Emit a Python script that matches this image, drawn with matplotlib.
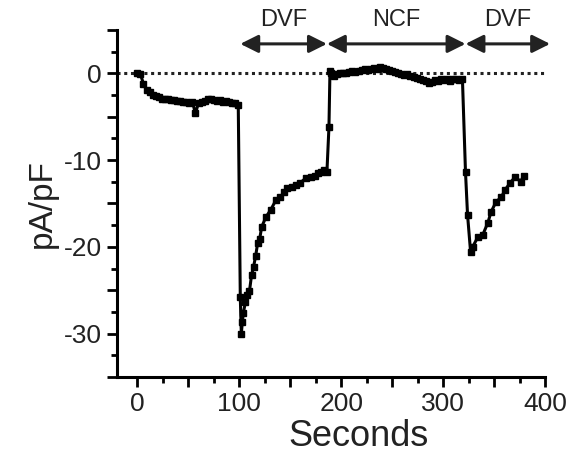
import matplotlib
matplotlib.use("Agg")
import matplotlib.pyplot as plt
from matplotlib.ticker import MultipleLocator, FuncFormatter

plt.rcParams['font.family'] = ['Liberation Sans', 'DejaVu Sans']

# baseline before the first DVF application
t_base = [0, 3, 6, 9, 12, 15, 18, 21, 24, 27, 30, 33, 36, 39, 42, 45, 48, 51,
          54, 57, 60, 63, 66, 69, 72, 75, 78, 81, 84, 87, 90, 93, 96, 99]
i_base = [0.0, -0.1, -1.2, -1.9, -2.2, -2.5, -2.6, -2.7, -2.9, -3.0, -3.0, -3.1,
          -3.1, -3.2, -3.2, -3.3, -3.3, -3.4, -3.3, -4.6, -3.4, -3.3, -3.2, -3.0,
          -2.9, -3.1, -3.2, -3.1, -3.3, -3.2, -3.3, -3.4, -3.4, -3.6]

# first DVF
t_dvf1 = [101, 102, 103, 104, 106, 108, 110, 112, 114, 116, 118, 120, 122, 126,
          131, 136, 140, 144, 147, 152, 156, 160, 165, 170, 174, 177, 180, 183, 186]
i_dvf1 = [-25.8, -30.0, -28.7, -27.6, -26.4, -25.6, -25.1, -23.3, -22.3, -21.1,
          -19.6, -19.1, -17.7, -16.6, -15.7, -14.6, -14.3, -13.7, -13.2, -13.1,
          -12.9, -12.6, -12.1, -11.9, -11.8, -11.5, -11.4, -11.1, -11.4]

# NCF
t_ncf = [188, 189, 190, 193, 196, 199, 202, 205, 208, 211, 214, 217, 220, 223,
         226, 229, 232, 235, 238, 241, 244, 247, 250, 253, 256, 259, 262, 265,
         268, 271, 274, 277, 280, 283, 286, 289, 292, 295, 298, 301, 304, 307,
         310, 313, 316, 319]
i_ncf = [-6.2, 0.3, 0.0, -0.3, -0.1, 0.0, 0.1, 0.0, 0.2, 0.3, 0.2, 0.3, 0.4, 0.5,
         0.4, 0.5, 0.6, 0.5, 0.7, 0.6, 0.5, 0.4, 0.3, 0.2, 0.0, -0.1, -0.2, -0.1,
         -0.3, -0.4, -0.5, -0.6, -0.8, -0.9, -1.1, -1.0, -0.8, -0.9, -0.7, -0.8,
         -0.6, -0.9, -0.7, -0.6, -0.8, -0.7]

# second DVF
t_dvf2 = [322, 324, 327, 329, 334, 339, 344, 347, 352, 357, 361, 366, 371, 376, 379]
i_dvf2 = [-11.4, -16.3, -20.6, -20.0, -18.9, -18.6, -17.2, -16.0, -14.8, -14.3,
          -13.4, -12.6, -11.9, -12.5, -11.8]

t_all = t_base + t_dvf1 + t_ncf + t_dvf2
i_all = i_base + i_dvf1 + i_ncf + i_dvf2

# solution bars across the top
bars = [("DVF", 101, 186), ("NCF", 186, 322), ("DVF", 322, 405)]

txt = '#222222'
fig = plt.figure(figsize=(5.69, 4.58), dpi=100)
ax = fig.add_axes([0.2056, 0.1769, 0.7522, 0.7576])

ax.axhline(0, color='#222222', lw=2.2, linestyle=(0, (1, 1.2)), zorder=1)
ax.plot(t_all, i_all, color='black', lw=2.2, marker='s', ms=5, zorder=3)

for name, a, b in bars:
    ax.annotate('', xy=(b, 3.4), xytext=(a, 3.4),
                arrowprops=dict(arrowstyle='<|-|>', color='#222222', lw=2.2,
                                mutation_scale=27, shrinkA=0, shrinkB=0),
                annotation_clip=False)
    ax.text((a + b) / 2, 6.1, name, ha='center', va='center', fontsize=17,
            color=txt, clip_on=False)

ax.set_xlim(-20, 400)
ax.set_ylim(-35, 5)

ax.spines['top'].set_visible(False)
ax.spines['right'].set_visible(False)
ax.spines['left'].set_linewidth(2.2)
ax.spines['bottom'].set_linewidth(2.2)

ax.xaxis.set_major_locator(MultipleLocator(50))
ax.xaxis.set_minor_locator(MultipleLocator(25))
ax.yaxis.set_major_locator(MultipleLocator(5))
ax.yaxis.set_minor_locator(MultipleLocator(2.5))
ax.xaxis.set_major_formatter(FuncFormatter(lambda v, p: f"{v:.0f}" if v % 100 == 0 else ""))
ax.yaxis.set_major_formatter(FuncFormatter(lambda v, p: f"{v:.0f}" if v % 10 == 0 else ""))
ax.tick_params(which='major', length=7, width=2, labelsize=19, pad=4)
ax.tick_params(which='minor', length=4, width=2)
ax.tick_params(colors='black', which='both', labelcolor=txt)

ax.set_xlabel("Seconds", fontsize=26, color=txt, labelpad=2, x=0.565)
ax.set_ylabel("pA/pF", fontsize=24, color=txt, labelpad=4)

fig.savefig("out.png", dpi=100)
